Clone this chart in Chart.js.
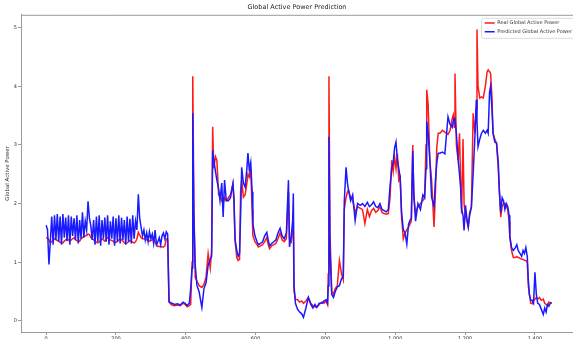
<!DOCTYPE html>
<html>
<head>
<meta charset="utf-8">
<title>Global Active Power Prediction</title>
<script src="https://cdn.jsdelivr.net/npm/chart.js@4"></script>
<style>
    html, body { margin: 0; padding: 0; background: #fff; overflow: hidden; }
    canvas { display: block; }
</style>
</head>
<body>
<canvas id="powerChart" width="573" height="339"></canvas>
<script>
/* ===========================
   DATA
=========================== */

const steps = [
    // flat stretch
    0, 4, 8, 12, 16, 20, 24, 28, 32, 36,
    40, 44, 48, 52, 56, 60, 64, 68, 72, 76,
    80, 84, 88, 92, 96, 100, 104, 108, 112, 116,
    120, 124, 128, 132, 136, 140, 144, 148, 152, 156,
    160, 164, 168, 172, 176, 180, 184, 188, 192, 196,
    200, 204, 208, 212, 216, 220, 224, 228, 232, 236,
    240, 244, 248, 252, 256, 260, 264, 268, 272, 276,
    280, 284, 288, 292, 296, 300, 304, 308, 312, 316,
    320, 324, 328, 332, 336, 340, 344, 348,
    // first low + spikes
    352, 360, 368, 376, 384, 392, 398, 404, 410, 414,
    418, 420, 423, 427, 432, 438, 446, 452, 458, 464,
    470, 474, 477, 480, 485, 489, 494, 498, 503, 507,
    511, 516, 522, 528, 535, 538, 541, 546, 550, 554,
    557, 560,
    // middle
    565, 570, 575, 578, 582, 586, 590, 592, 598, 604,
    608, 614, 620, 626, 632, 636, 640, 646, 652, 658,
    664, 670, 676, 682, 688, 694, 697, 702, 706, 708,
    710, 714, 720, 726, 732, 737, 744, 751, 758, 764,
    770, 775, 782, 790, 796, 802, 806, 808, 810, 813,
    818, 823, 828, 834, 840, 846, 851, 854, 859, 863,
    866, 872, 878, 885,
    // plateau around 2
    892, 900, 906, 913, 920, 926, 932, 938, 944, 950,
    956, 962, 968, 974, 980, 985, 990, 994, 998, 1002,
    1006, 1010, 1014, 1018, 1023, 1028, 1033, 1038, 1042, 1046,
    1050, 1053, 1058, 1065, 1072, 1079, 1084, 1088, 1090, 1094,
    1099, 1104, 1111, 1115, 1119, 1123, 1128,
    // peak and decline
    1135, 1142, 1151, 1157, 1163, 1166, 1169, 1171, 1175, 1180,
    1184, 1187, 1190, 1194, 1197, 1201, 1205, 1209, 1213, 1218,
    1223, 1228, 1232, 1234, 1237, 1242, 1247, 1252, 1258, 1263,
    1266, 1270, 1273, 1277, 1280, 1285, 1290, 1295, 1298, 1302,
    1306, 1310, 1314, 1318, 1322, 1326, 1328, 1333, 1338, 1344,
    1348, 1352, 1357, 1362, 1366, 1370, 1374, 1378, 1381, 1384,
    1388, 1392, 1396, 1400, 1404, 1408, 1413, 1418, 1424, 1428,
    1432, 1436, 1440, 1444, 1448
];

const realPower = [
    1.42, 1.41, 1.38, 1.33, 1.35, 1.38, 1.40, 1.38, 1.37, 1.36,
    1.34, 1.33, 1.33, 1.36, 1.38, 1.40, 1.38, 1.36, 1.38, 1.40,
    1.42, 1.38, 1.37, 1.35, 1.36, 1.40, 1.42, 1.44, 1.45, 1.46,
    1.48, 1.47, 1.42, 1.40, 1.38, 1.36, 1.34, 1.33, 1.35, 1.37,
    1.40, 1.38, 1.36, 1.40, 1.42, 1.40, 1.38, 1.37, 1.36, 1.33,
    1.34, 1.35, 1.38, 1.40, 1.38, 1.36, 1.33, 1.32, 1.33, 1.35,
    1.37, 1.35, 1.34, 1.33, 1.35, 1.40, 1.51, 1.46, 1.42, 1.40,
    1.40, 1.40, 1.38, 1.37, 1.36, 1.37, 1.38, 1.40, 1.35, 1.30,
    1.27, 1.27, 1.27, 1.26, 1.26, 1.28, 1.40, 1.38,

    0.32, 0.27, 0.26, 0.27, 0.26, 0.30, 0.28, 0.24, 0.26, 0.28,
    1.00, 4.17, 2.00, 0.74, 0.68, 0.60, 0.57, 0.62, 0.75, 1.15,
    0.90, 1.20, 3.31, 2.60, 2.80, 2.74, 2.15, 2.17, 2.05, 2.00,
    2.10, 2.05, 2.10, 2.15, 2.34, 2.00, 1.37, 1.08, 1.03, 1.05,
    2.20, 2.40,

    2.11, 2.15, 2.35, 2.50, 2.45, 2.60, 1.90, 1.46, 1.35, 1.30,
    1.26, 1.28, 1.30, 1.35, 1.42, 1.30, 1.23, 1.28, 1.30, 1.32,
    1.40, 1.50, 1.38, 1.35, 1.40, 2.20, 1.40, 1.35, 1.55, 1.60,
    0.51, 0.37, 0.36, 0.32, 0.34, 0.30, 0.34, 0.40, 0.30, 0.26,
    0.24, 0.23, 0.28, 0.32, 0.30, 0.34, 0.28, 0.80, 4.17, 1.50,
    0.50, 0.46, 0.55, 0.60, 1.03, 0.80, 0.70, 1.90, 2.10, 2.20,
    2.23, 2.10, 2.05, 1.85,

    1.95, 1.92, 1.90, 1.66, 1.90, 1.78, 1.88, 1.92, 1.85, 1.88,
    1.95, 1.85, 1.83, 1.82, 1.83, 2.10, 2.74, 2.55, 2.80, 2.60,
    2.85, 2.40, 2.45, 1.77, 1.40, 1.50, 1.55, 1.60, 1.65, 1.70,
    3.00, 2.10, 1.85, 1.95, 2.00, 2.05, 2.10, 3.00, 3.94, 3.70,
    2.74, 2.40, 1.60, 2.20, 2.97, 3.20, 3.20,

    3.25, 3.22, 3.18, 3.25, 3.45, 3.51, 3.30, 4.22, 3.00, 2.74,
    3.20, 2.40, 1.83, 3.10, 2.00, 1.80, 1.70, 1.60, 1.85, 1.94,
    3.54, 3.20, 3.60, 4.97, 4.00, 3.80, 3.82, 3.80, 4.00, 4.25,
    4.28, 4.25, 4.22, 3.80, 3.20, 3.10, 3.03, 2.60, 2.23, 1.77,
    1.95, 2.00, 2.00, 1.95, 1.90, 1.70, 1.43, 1.20, 1.08, 1.08,
    1.10, 1.08, 1.07, 1.05, 1.05, 1.03, 1.03, 1.00, 0.60, 0.46,
    0.30, 0.29, 0.35, 0.37, 0.40, 0.37, 0.40, 0.35, 0.37, 0.30,
    0.28, 0.25, 0.32, 0.31, 0.31
];

const predictedPower = [
    1.63, 1.55, 0.96, 1.35, 1.78, 1.30, 1.80, 1.38, 1.82, 1.35,
    1.78, 1.30, 1.82, 1.42, 1.76, 1.36, 1.80, 1.30, 1.78, 1.45,
    1.75, 1.38, 1.80, 1.32, 1.72, 1.40, 1.85, 1.42, 1.70, 1.55,
    2.04, 1.75, 1.62, 1.38, 1.72, 1.30, 1.78, 1.35, 1.80, 1.28,
    1.72, 1.40, 1.76, 1.35, 1.80, 1.30, 1.70, 1.40, 1.78, 1.28,
    1.75, 1.35, 1.80, 1.32, 1.76, 1.38, 1.72, 1.30, 1.78, 1.35,
    1.74, 1.32, 1.80, 1.40, 1.70, 1.55, 2.16, 1.75, 1.60, 1.45,
    1.55, 1.38, 1.50, 1.35, 1.52, 1.40, 1.48, 1.32, 1.55, 1.30,
    1.35, 1.42, 1.30, 1.45, 1.50, 1.40, 1.52, 1.48,

    0.33, 0.30, 0.28, 0.29, 0.27, 0.32, 0.30, 0.26, 0.30, 0.55,
    0.90, 3.54, 1.80, 0.95, 0.60, 0.50, 0.23, 0.55, 0.65, 0.95,
    1.05, 1.10, 2.91, 2.75, 2.55, 2.40, 2.25, 2.05, 2.35, 1.77,
    2.40, 2.05, 2.05, 2.10, 2.34, 2.10, 1.40, 1.20, 1.10, 1.15,
    1.80, 2.62,

    2.35, 2.28, 2.60, 2.86, 2.57, 2.70, 2.20, 1.66, 1.45, 1.35,
    1.30, 1.32, 1.35, 1.45, 1.51, 1.38, 1.28, 1.32, 1.35, 1.38,
    1.50, 1.58, 1.45, 1.40, 1.50, 2.40, 1.26, 1.45, 1.70, 2.17,
    0.60, 0.30, 0.20, 0.15, 0.12, 0.06, 0.22, 0.40, 0.28, 0.22,
    0.28, 0.23, 0.30, 0.30, 0.34, 0.36, 0.30, 0.60, 3.14, 1.20,
    0.45, 0.40, 0.50, 0.58, 0.60, 0.72, 0.75, 2.05, 2.62, 2.35,
    2.23, 2.05, 2.15, 1.71,

    2.00, 1.97, 2.00, 1.95, 2.02, 1.95, 1.98, 2.03, 1.95, 1.93,
    2.00, 1.90, 1.88, 1.86, 1.90, 2.30, 2.60, 2.70, 2.95, 3.05,
    2.75, 2.60, 2.45, 1.85, 1.55, 1.50, 1.31, 1.65, 1.71, 1.75,
    2.90, 2.20, 1.70, 2.00, 1.90, 2.15, 2.10, 2.60, 3.40, 3.20,
    2.74, 2.11, 1.95, 2.40, 2.70, 2.86, 2.86,

    2.88, 2.85, 3.48, 3.35, 3.30, 3.40, 3.45, 3.42, 3.20, 2.74,
    2.50, 2.28, 1.90, 1.80, 1.54, 1.97, 1.75, 1.60, 1.80, 1.94,
    2.50, 3.14, 3.77, 3.40, 2.97, 3.10, 3.20, 3.25, 3.20, 3.25,
    3.20, 3.90, 4.00, 3.60, 3.20, 3.05, 3.03, 2.70, 2.23, 1.85,
    2.10, 2.05, 1.90, 2.00, 1.95, 1.80, 1.45, 1.25, 1.20, 1.25,
    1.30, 1.20, 1.15, 1.10, 1.20, 1.15, 1.25, 1.10, 0.70, 0.45,
    0.35, 0.35, 0.30, 0.83, 0.45, 0.30, 0.28, 0.20, 0.11, 0.22,
    0.15, 0.28, 0.25, 0.30, 0.31
];

const xTicks = [0, 200, 400, 600, 800, 1000, 1200, 1400];
const yTicks = [0, 1, 2, 3, 4, 5];

/* ===========================
   HELPERS
=========================== */

function toPoints(values) {
    return steps.map((x, i) => ({ x: x, y: values[i] }));
}

const axisGrey = '#9a9a9a';
const textColor = '#333';

// top spine + legend frame, matplotlib style
const framePlugin = {
    id: 'frame',
    afterLayout(chart) {
        const area = chart.chartArea;
        const legend = chart.legend;
        if (legend) {
            legend.left = area.right - 92;
            legend.right = legend.left + legend.width;
            legend.top = area.top + 2;
            legend.bottom = legend.top + legend.height;
        }
    },
    beforeDraw(chart) {
        const ctx = chart.ctx;
        const area = chart.chartArea;
        ctx.save();
        ctx.strokeStyle = axisGrey;
        ctx.lineWidth = 1;
        ctx.beginPath();
        ctx.moveTo(area.left, area.top + 0.5);
        ctx.lineTo(area.right, area.top + 0.5);
        ctx.stroke();
        ctx.restore();
    },
    afterDraw(chart) {
        const ctx = chart.ctx;
        const area = chart.chartArea;
        ctx.save();
        ctx.strokeStyle = '#dcdcdc';
        ctx.lineWidth = 1;
        ctx.beginPath();
        ctx.roundRect(area.right - 91.5, area.top + 3.5, 95, 20, 2);
        ctx.stroke();
        ctx.restore();
    }
};

/* ===========================
   CHART
=========================== */

const ctx = document.getElementById('powerChart').getContext('2d');

new Chart(ctx, {
    type: 'line',
    data: {
        datasets: [
            {
                label: 'Real Global Active Power',
                data: toPoints(realPower),
                borderColor: '#ff1a1a',
                backgroundColor: '#ff1a1a',
                borderWidth: 1.5,
                pointRadius: 0,
                tension: 0,
                order: 2
            },
            {
                label: 'Predicted Global Active Power',
                data: toPoints(predictedPower),
                borderColor: '#1a1aff',
                backgroundColor: '#1a1aff',
                borderWidth: 1.5,
                pointRadius: 0,
                tension: 0,
                order: 1
            }
        ]
    },
    options: {
        responsive: false,
        animation: false,
        devicePixelRatio: 1,
        layout: { padding: 0 },
        plugins: {
            title: {
                display: true,
                text: 'Global Active Power Prediction',
                color: '#222',
                fullSize: false,
                font: { family: 'DejaVu Sans', size: 6.5, lineHeight: 1.2, weight: 'normal' },
                padding: { top: 3, bottom: 4 }
            },
            legend: {
                position: 'chartArea',
                align: 'start',
                labels: {
                    usePointStyle: true,
                    pointStyle: 'line',
                    pointStyleWidth: 10,
                    color: textColor,
                    padding: 3.7,
                    sort: (a, b) => a.datasetIndex - b.datasetIndex,
                    font: { family: 'DejaVu Sans', size: 5 }
                }
            },
            tooltip: { enabled: false }
        },
        scales: {
            x: {
                type: 'linear',
                min: -72,
                max: 1509,
                afterBuildTicks: axis => {
                    axis.ticks = xTicks.map(v => ({ value: v }));
                },
                afterFit: axis => { axis.height = 7; },
                grid: {
                    drawOnChartArea: false,
                    drawTicks: true,
                    tickLength: 3,
                    color: axisGrey
                },
                border: { color: axisGrey, width: 1 },
                ticks: {
                    color: textColor,
                    padding: 1,
                    maxRotation: 0,
                    font: { family: 'DejaVu Sans', size: 5 }
                }
            },
            y: {
                type: 'linear',
                min: -0.19,
                max: 5.22,
                afterBuildTicks: axis => {
                    axis.ticks = yTicks.map(v => ({ value: v }));
                },
                afterFit: axis => { axis.width = 21; },
                grid: {
                    drawOnChartArea: false,
                    drawTicks: true,
                    tickLength: 3,
                    color: axisGrey
                },
                border: { color: axisGrey, width: 1 },
                title: {
                    display: true,
                    text: 'Global Active Power',
                    color: textColor,
                    padding: { top: 4, bottom: 0 },
                    font: { family: 'DejaVu Sans', size: 5.5 }
                },
                ticks: {
                    color: textColor,
                    padding: 1,
                    font: { family: 'DejaVu Sans', size: 5 }
                }
            }
        }
    },
    plugins: [framePlugin]
});
</script>
</body>
</html>
